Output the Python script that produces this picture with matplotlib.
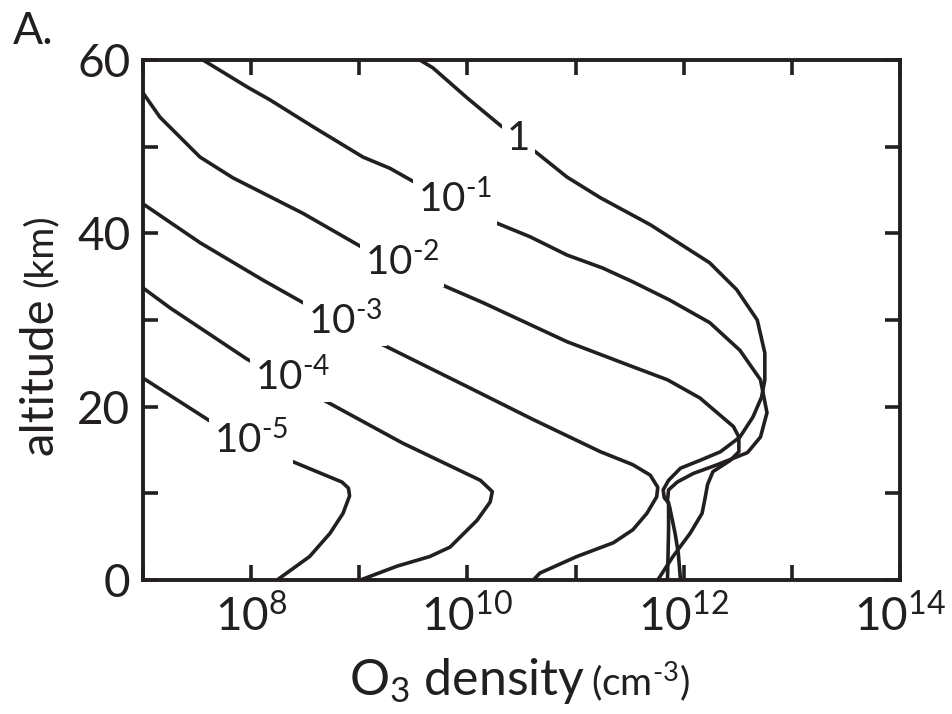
import matplotlib
matplotlib.use("Agg")
import matplotlib.pyplot as plt
import numpy as np

plt.rcParams['font.family'] = ['Lato', 'DejaVu Sans']
plt.rcParams['mathtext.fontset'] = 'custom'
plt.rcParams['mathtext.rm'] = 'Lato'
plt.rcParams['mathtext.it'] = 'Lato:italic'
plt.rcParams['mathtext.bf'] = 'Lato:bold'

INK = '#231f20'
HY = '\u2010'

# ---- data: log10(O3 density / cm^-3) vs altitude (km) ----
c1_logn = [9.56, 9.68, 10.00, 10.30, 10.64, 10.92, 11.23, 11.69, 11.94, 12.24, 12.49, 12.68,
           12.75, 12.75, 12.72, 12.64, 12.52, 12.34, 12.15, 11.97, 11.86, 11.81, 11.82, 11.86,
           11.86, 11.85]
c1_alt = [60, 59.1, 55.6, 52.5, 49.3, 46.5, 44.1, 41.0, 39.0, 36.6, 33.5, 30.0,
          26.2, 23.1, 21.1, 18.8, 16.5, 14.8, 13.8, 12.9, 11.5, 10.4, 9.5, 8.9,
          5.8, 0]

c2_logn = [7.555, 7.962, 8.174, 8.572, 9.034, 9.284, 9.497, 10.052, 10.58, 10.92, 11.25,
           11.53, 11.87, 12.24, 12.52, 12.71, 12.77, 12.71, 12.59, 12.49, 12.31, 12.09,
           11.94, 11.86, 11.85, 11.87, 11.92, 11.95, 11.97]
c2_alt = [60, 56.9, 55.4, 52.3, 48.8, 47.5, 46.0, 42.3, 39.6, 37.5, 36.0,
          34.4, 32.3, 29.7, 26.5, 23.1, 19.3, 16.5, 14.7, 14.2, 13.3, 12.3,
          11.3, 10.4, 9.2, 8.4, 5.4, 3.1, 0]

c3_logn = [7.0, 7.157, 7.527, 7.832, 8.480, 9.025, 9.589, 10.144, 10.92, 11.53, 11.85, 12.15,
           12.46, 12.51, 12.51, 12.43, 12.27, 12.22, 12.20, 12.17, 12.06, 11.90, 11.76]
c3_alt = [56.2, 53.4, 48.8, 46.4, 42.3, 38.4, 35.0, 32.0, 27.5, 24.6, 23.1, 21.0,
          17.7, 16.5, 14.8, 13.8, 12.5, 11.0, 9.6, 7.7, 5.4, 2.7, 0]

c4_logn = [7.00, 7.53, 8.11, 8.48, 9.03, 10.0, 10.61, 11.23, 11.53, 11.69, 11.76, 11.75,
           11.66, 11.53, 11.35, 11.01, 10.67, 10.61]
c4_alt = [43.4, 38.9, 34.6, 32.0, 28.3, 22.3, 18.5, 14.8, 13.3, 12.1, 10.7, 9.6,
          7.7, 5.8, 4.3, 2.7, 0.8, 0]

c5_logn = [7.0, 7.25, 7.96, 8.62, 9.40, 10.12, 10.23, 10.21, 10.09, 9.84, 9.65, 9.35, 9.01]
c5_alt = [33.7, 31.4, 25.5, 21.1, 15.8, 11.5, 10.2, 9.0, 6.9, 3.8, 2.7, 1.6, 0]

c6_logn = [7.0, 7.25, 7.65, 8.26, 8.84, 8.90, 8.91, 8.85, 8.73, 8.54, 8.24]
c6_alt = [23.3, 21.3, 18.1, 14.3, 11.3, 10.6, 9.7, 7.7, 5.4, 2.7, 0]

curve_labels = ['1', r'$10^{%s1}$' % HY, r'$10^{%s2}$' % HY, r'$10^{%s3}$' % HY,
                r'$10^{%s4}$' % HY, r'$10^{%s5}$' % HY]
label_logn = [10.47, 9.886, 9.395, 8.868, 8.378, 7.999]
label_alt = [51.0, 43.9, 36.7, 29.9, 23.4, 16.2]

xtick_exp = [7, 8, 9, 10, 11, 12, 13, 14]
xtick_labels = ['', r'$10^{8}$', '', r'$10^{10}$', '', r'$10^{12}$', '', r'$10^{14}$']
ytick_vals = [0, 10, 20, 30, 40, 50, 60]
ytick_labels = ['0', '', '20', '', '40', '', '60']

# ---- figure ----
fig = plt.figure(figsize=(9.53, 7.14), dpi=100)
ax = fig.add_axes([143/953, 1-580/714, (900-143)/953, (580-60)/714])

curves = [(c1_logn, c1_alt), (c2_logn, c2_alt), (c3_logn, c3_alt),
          (c4_logn, c4_alt), (c5_logn, c5_alt), (c6_logn, c6_alt)]
for lg, al in curves:
    ax.plot(10**np.array(lg), al, color=INK, lw=2.6, solid_joinstyle='round',
            solid_capstyle='round', zorder=2, clip_on=True)

for txt, lg, al in zip(curve_labels, label_logn, label_alt):
    ax.text(10**lg, al, txt, ha='center', va='center', fontsize=29, color=INK,
            zorder=3, bbox=dict(boxstyle='square,pad=0.12', fc='white', ec='none'))

ax.set_xscale('log')
ax.set_xlim(1e7, 1e14)
ax.set_ylim(0, 60)
ax.set_xticks([10.0**e for e in xtick_exp])
ax.set_xticklabels(xtick_labels)
ax.xaxis.set_minor_locator(matplotlib.ticker.NullLocator())
ax.set_yticks(ytick_vals)
ax.set_yticklabels(ytick_labels)

ax.tick_params(axis='both', which='major', direction='in', length=11, width=2.6,
               color=INK, labelcolor=INK, labelsize=33, top=True, right=True)
ax.tick_params(axis='x', pad=10)
ax.tick_params(axis='y', pad=9)
for s in ax.spines.values():
    s.set_linewidth(2.8)
    s.set_color(INK)

# axis labels (mixed sizes)
fig.text(52/953, 1-455/714, 'altitude', rotation=90, rotation_mode='anchor',
         ha='left', va='baseline', fontsize=34, color=INK)
fig.text(52/953, 1-287/714, '(km)', rotation=90, rotation_mode='anchor',
         ha='left', va='baseline', fontsize=28, color=INK)

fig.text(585/953, 1-695/714, r'O$_3$ density', ha='right', va='baseline',
         fontsize=36, color=INK)
fig.text(591/953, 1-695/714, r'(cm$^{%s3}$)' % HY, ha='left', va='baseline',
         fontsize=28, color=INK)

fig.text(13/953, 1-44/714, 'A.', ha='left', va='baseline', fontsize=32, color=INK)

fig.savefig('out.png', dpi=100)
